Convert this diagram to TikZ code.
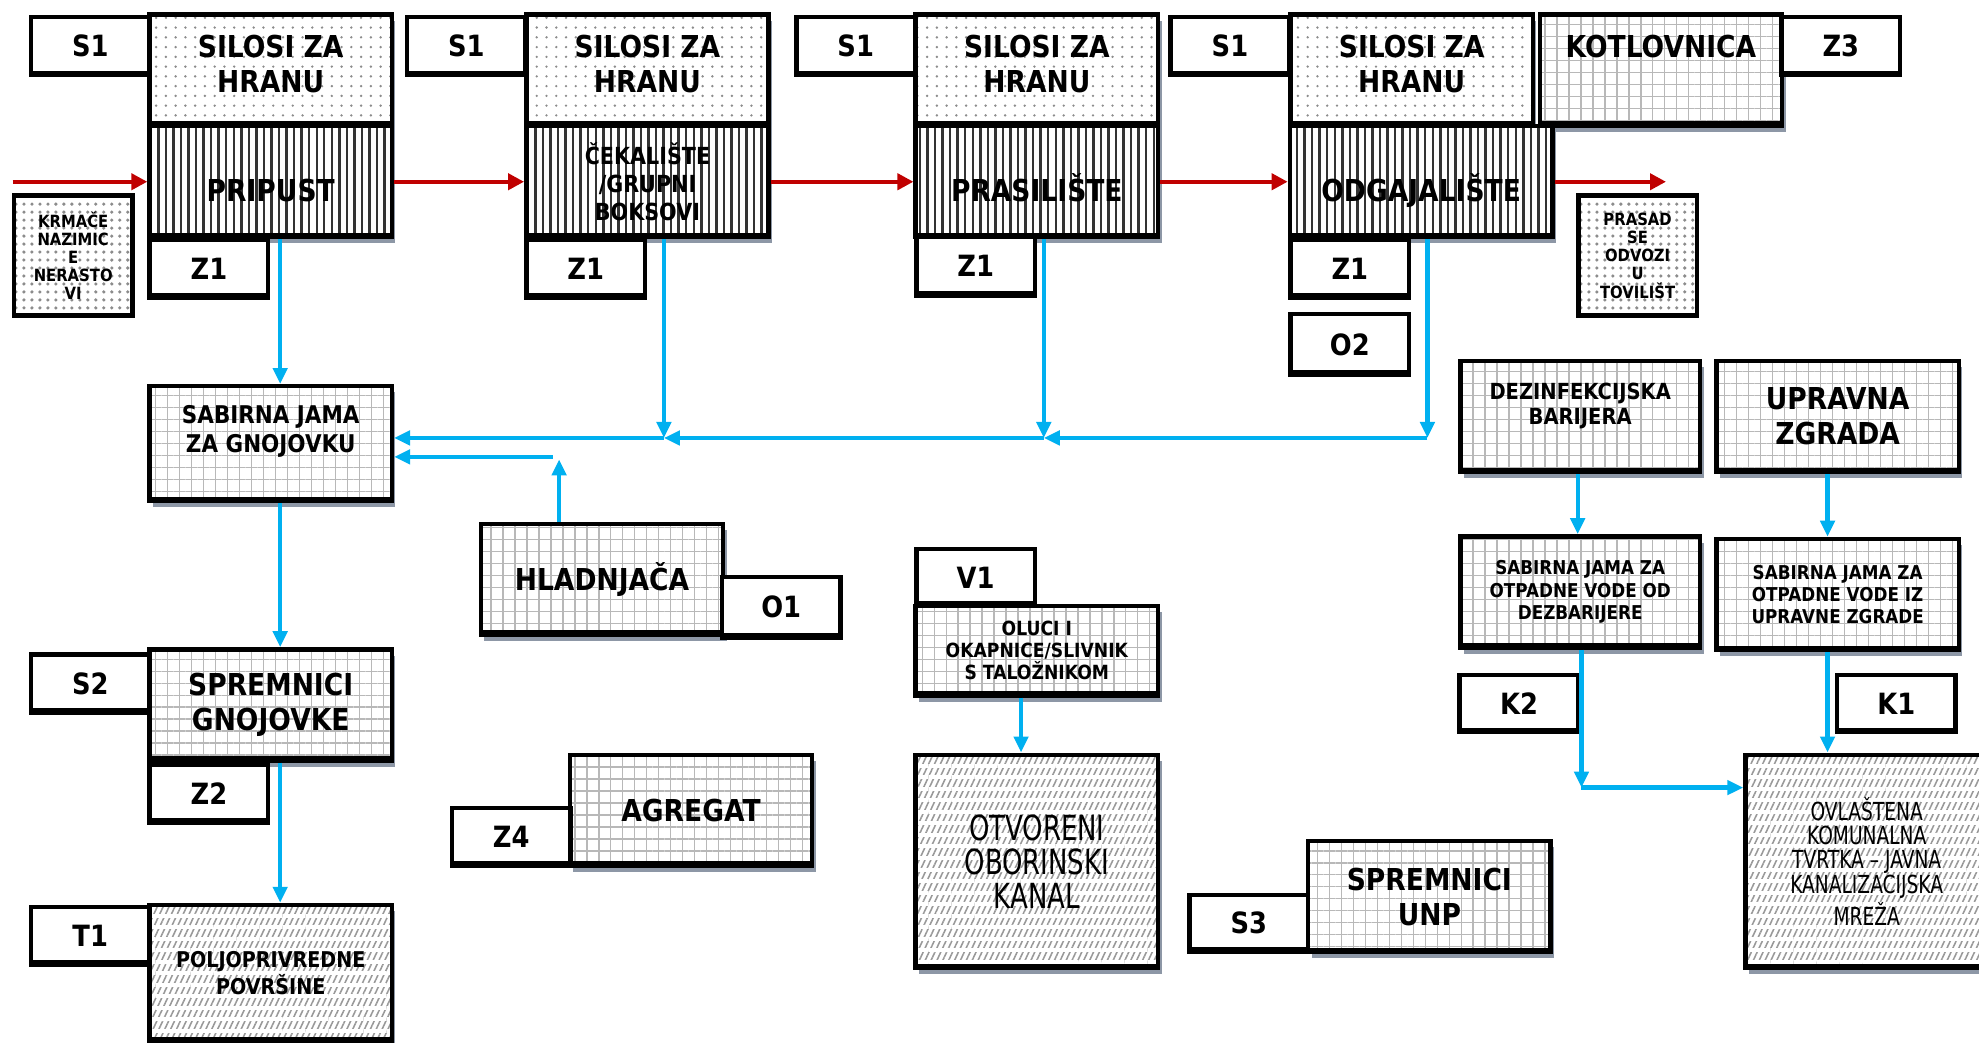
\documentclass[tikz,border=0pt]{standalone}
\usepackage{fontspec}
\setmainfont{DejaVu Sans}[FakeStretch=0.88]
\newfontfamily\condfont{DejaVu Sans}[FakeStretch=0.75]
\usetikzlibrary{arrows.meta,patterns.meta,shadows}

\definecolor{flowred}{RGB}{192,0,0}
\definecolor{drainblue}{RGB}{0,176,240}
\definecolor{shade}{RGB}{141,151,166}

\tikzset{
  heavy base/.style={path picture={\draw[line width=2pt] (path picture bounding box.south west) -- (path picture bounding box.south east);}},
  lbl/.style={draw, line width=1pt, fill=white, inner sep=0pt, heavy base,
    minimum width=0.94cm, minimum height=0.46cm,
    font=\bfseries\fontsize{6.6}{7.6}\selectfont},
  box/.style={draw, line width=1pt, inner sep=0pt, align=center,
    minimum width=1.92cm, minimum height=0.88cm,
    general shadow={fill=shade, shadow xshift=0.8pt, shadow yshift=-1.4pt},
    preaction={fill=white}, heavy base,
    font=\bfseries\fontsize{6.8}{7.9}\selectfont},
  silo/.style={box, text depth=3pt, preaction={pattern={Dots[distance=2.2pt,radius=0.3pt]}, pattern color=black!45}},
  room/.style={box, preaction={pattern={Lines[angle=90,distance=1.7pt,line width=0.55pt]}, pattern color=black!80}},
  low/.style={text height=9pt, text depth=0pt},
  net/.style={box, preaction={pattern={Hatch[angle=0,distance=2.7pt,line width=0.3pt]}, pattern color=black!28}},
  hatch/.style={box, preaction={pattern={Lines[angle=65,distance=1.2pt,line width=0.35pt]}, pattern color=black!40},
    preaction={pattern={Lines[angle=0,distance=2.6pt,line width=0.9pt]}, pattern color=white}},
  speck/.style={draw, line width=1pt, inner sep=0pt, align=center,
    minimum width=0.94cm, minimum height=0.95cm,
    preaction={fill=white}, preaction={pattern={Dots[distance=1.8pt,radius=0.4pt]}, pattern color=black!45},
    font=\bfseries\fontsize{3.8}{4.1}\selectfont},
  tmid/.style={font=\bfseries\fontsize{5.3}{6.3}\selectfont},
  tsml/.style={font=\bfseries\fontsize{4.3}{5.0}\selectfont},
  tcond/.style={font=\condfont\fontsize{7.8}{7.7}\selectfont},
  flow/.style={draw=flowred, line width=0.9pt, -{Triangle[length=3.6pt,width=3.6pt]}},
  drain/.style={draw=drainblue, line width=0.95pt, -{Triangle[length=3.6pt,width=3.2pt]}},
}

\begin{document}
\begin{tikzpicture}
\useasboundingbox (0,0) rectangle (15.68,-8.26);

% top row
\node[silo] (silo1) at (2.145,-0.555) {SILOSI ZA\\HRANU};
\node[silo] (silo2) at (5.13,-0.555) {SILOSI ZA\\HRANU};
\node[silo] (silo3) at (8.215,-0.555) {SILOSI ZA\\HRANU};
\node[silo] (silo4) at (11.185,-0.555) {SILOSI ZA\\HRANU};
\node[net, text height=5pt, text depth=10.7pt] (kotlov) at (13.16,-0.555) {KOTLOVNICA};

\node[room, low] (prip) at (2.145,-1.44) {PRIPUST};
\node[room, tmid] (ceka) at (5.13,-1.44) {ČEKALIŠTE\\/GRUPNI\\BOKSOVI};
\node[room, low] (pras) at (8.215,-1.44) {PRASILIŠTE};
\node[room, low, minimum width=2.08cm] (odga) at (11.26,-1.44) {ODGAJALIŠTE};

\node[speck] (krm) at (0.58,-2.025) {KRMAČE\\NAZIMIC\\E\\NERASTO\\VI};
\node[speck] (prasad) at (12.975,-2.025) {PRASAD\\SE\\ODVOZI\\U\\TOVILIŠT};

% left column
\node[net, minimum height=0.91cm, font=\bfseries\fontsize{5.5}{6.5}\selectfont] (sabg) at (2.145,-3.515) {SABIRNA JAMA\\ZA GNOJOVKU\\~};
\node[net] (spg) at (2.145,-5.585) {SPREMNICI\\GNOJOVKE};
\node[hatch, minimum height=1.08cm, font=\bfseries\fontsize{4.9}{6}\selectfont] (polj) at (2.145,-7.71) {POLJOPRIVREDNE\\POVRŠINE};

% middle
\node[net] (hlad) at (4.77,-4.59) {HLADNJAČA};
\node[net] (agr) at (5.475,-6.42) {AGREGAT};
\node[net, minimum height=0.71cm, font=\bfseries\fontsize{4.4}{5}\selectfont] (oluci) at (8.215,-5.155) {OLUCI I\\OKAPNICE/SLIVNIK\\S TALOŽNIKOM};
\node[hatch, minimum height=1.69cm, tcond] (otv) at (8.215,-6.825) {OTVORENI\\OBORINSKI\\KANAL};
\node[net] (unp) at (11.325,-7.105) {SPREMNICI\\UNP};

% right
\node[net, minimum width=1.90cm, font=\bfseries\fontsize{5}{5.8}\selectfont] (dez) at (12.52,-3.30) {DEZINFEKCIJSKA\\BARIJERA\\~};
\node[net] (upr) at (14.56,-3.30) {UPRAVNA\\ZGRADA};
\node[net, minimum width=1.90cm, tsml] (sabd) at (12.52,-4.69) {SABIRNA JAMA ZA\\OTPADNE VODE OD\\DEZBARIJERE};
\node[net, tsml] (sabu) at (14.56,-4.71) {SABIRNA JAMA ZA\\OTPADNE VODE IZ\\UPRAVNE ZGRADE};
\node[hatch, minimum height=1.69cm, font=\condfont\fontsize{5.6}{5.5}\selectfont] (ovl) at (14.79,-6.825) {OVLAŠTENA\\KOMUNALNA\\TVRTKA – JAVNA\\KANALIZACIJSKA\\MREŽA};

% labels
\node[lbl] (s1a) at (0.715,-0.365) {S1};
\node[lbl] (s1b) at (3.695,-0.365) {S1};
\node[lbl] (s1c) at (6.78,-0.365) {S1};
\node[lbl] (s1d) at (9.745,-0.365) {S1};
\node[lbl] (z3) at (14.585,-0.365) {Z3};
\node[lbl] (z1a) at (1.655,-2.13) {Z1};
\node[lbl] (z1b) at (4.64,-2.13) {Z1};
\node[lbl] (z1c) at (7.73,-2.11) {Z1};
\node[lbl] (z1d) at (10.695,-2.13) {Z1};
\node[lbl, minimum height=0.48cm] (o2) at (10.695,-2.73) {O2};
\node[lbl, minimum height=0.48cm] (o1) at (6.19,-4.81) {O1};
\node[lbl, minimum height=0.45cm] (v1) at (7.73,-4.575) {V1};
\node[lbl] (s2) at (0.715,-5.415) {S2};
\node[lbl] (z2) at (1.655,-6.29) {Z2};
\node[lbl] (t1) at (0.715,-7.415) {T1};
\node[lbl] (z4) at (4.05,-6.63) {Z4};
\node[lbl, minimum height=0.45cm] (s3) at (9.895,-7.315) {S3};
\node[lbl, minimum height=0.45cm] (k2) at (12.035,-5.575) {K2};
\node[lbl, minimum height=0.45cm] (k1) at (15.025,-5.575) {K1};

% red flow
\coordinate (in) at (0.10,-1.44);
\coordinate (out) at (13.20,-1.44);
\path (in) edge [flow] (prip);
\path (prip) edge [flow] (ceka);
\path (ceka) edge [flow] (pras);
\path (pras) edge [flow] (odga);
\path (odga) edge [flow] (out);

% blue drains
\coordinate (j1) at (5.26,-3.47);
\coordinate (j2) at (8.27,-3.47);
\coordinate (j3) at (11.31,-3.47);
\coordinate (m) at (2.22,0);
\coordinate (h1) at (4.43,-3.64);
\coordinate (h2) at (4.38,-3.62);
\coordinate (v) at (8.09,0);
\coordinate (d) at (12.50,0);
\coordinate (u) at (14.48,0);
\coordinate (j5) at (12.53,-6.24);

\path (prip.south -| m) edge [drain] (sabg.north -| m);
\path (sabg.south -| m) edge [drain] (spg.north -| m);
\path (spg.south -| m) edge [drain] (polj.north -| m);
\path (ceka.south -| j1) edge [drain] (j1);
\path (pras.south -| j2) edge [drain] (j2);
\path (odga.south -| j3) edge [drain] (j3);
\path (j3) edge [drain] (j2);
\path (j2) edge [drain] (j1);
\path (j1) edge [drain] (sabg.east |- j1);
\path (hlad.north -| h1) edge [drain] (h1);
\path (h2) edge [drain] (sabg.east |- h2);
\path (oluci.south -| v) edge [drain] (otv.north -| v);
\path (dez.south -| d) edge [drain] (sabd.north -| d);
\path (upr.south -| u) edge [drain] (sabu.north -| u);
\path (sabu.south -| u) edge [drain] (ovl.north -| u);
\path (sabd.south -| j5) edge [drain] (j5);
\path (j5) edge [drain] (ovl.west |- j5);
\end{tikzpicture}
\end{document}
